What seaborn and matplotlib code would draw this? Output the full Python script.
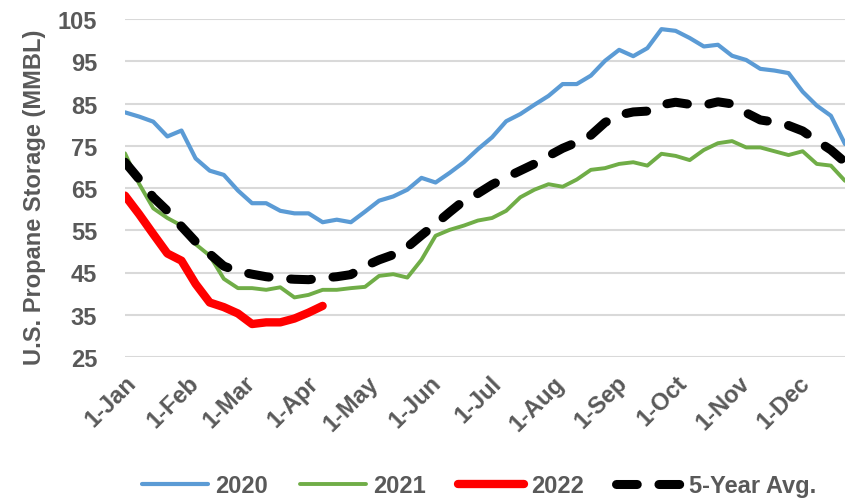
import numpy as np
import pandas as pd
import matplotlib
matplotlib.use("Agg")
import matplotlib.pyplot as plt
import seaborn as sns

# weekly points starting 1-Jan
weeks = pd.date_range("2021-01-01", periods=52, freq="7D")

storage_2020 = [82.9, 81.9, 80.7, 77.2, 78.6, 72.0, 69.1, 68.1, 64.4, 61.4,
                61.4, 59.6, 59.0, 59.0, 56.9, 57.5, 56.9, 59.4, 62.0, 63.0,
                64.6, 67.4, 66.3, 68.6, 71.1, 74.2, 77.0, 80.8, 82.5, 84.7,
                86.8, 89.6, 89.6, 91.6, 95.1, 97.7, 96.2, 98.1, 102.6, 102.2,
                100.5, 98.5, 98.9, 96.3, 95.3, 93.2, 92.8, 92.2, 87.8, 84.5,
                82.1, 75.4]
storage_2021 = [73.2, 66.0, 60.2, 57.9, 56.1, 51.7, 49.0, 43.5, 41.3, 41.3,
                40.9, 41.5, 39.1, 39.7, 40.9, 40.9, 41.3, 41.6, 44.2, 44.6,
                43.8, 48.0, 53.7, 55.1, 56.1, 57.3, 57.9, 59.6, 62.8, 64.6,
                65.9, 65.3, 67.0, 69.3, 69.7, 70.7, 71.1, 70.3, 73.1, 72.6,
                71.6, 74.0, 75.6, 76.1, 74.6, 74.6, 73.7, 72.8, 73.7, 70.7,
                70.3, 66.7]
storage_2022 = [63.2, 58.8, 54.1, 49.5, 47.8, 42.3, 37.9, 36.8, 35.3, 32.8,
                33.2, 33.2, 34.1, 35.5, 37.1]
storage_5yr = [71.1, 67.1, 62.8, 59.6, 55.9, 52.3, 49.4, 46.5, 45.3, 44.6,
               44.0, 43.6, 43.4, 43.3, 43.7, 44.0, 44.5, 46.5, 48.0, 49.2,
               51.0, 53.8, 56.5, 59.3, 62.0, 63.7, 65.8, 67.5, 69.1, 70.7,
               72.6, 74.4, 75.8, 77.5, 80.5, 82.3, 83.0, 83.2, 84.7, 85.3,
               84.8, 84.6, 85.4, 84.9, 82.8, 81.1, 80.6, 79.8, 78.5, 76.2,
               74.0, 71.1]

month_ticks = pd.date_range("2021-01-01", periods=12, freq="MS")
month_labels = ["1-Jan", "1-Feb", "1-Mar", "1-Apr", "1-May", "1-Jun",
                "1-Jul", "1-Aug", "1-Sep", "1-Oct", "1-Nov", "1-Dec"]
y_ticks = [25, 35, 45, 55, 65, 75, 85, 95, 105]

sns.set_theme(style="white")
plt.rcParams["font.family"] = ["Liberation Sans", "DejaVu Sans"]
grey = "#595959"
fs = 17

fig = plt.figure(figsize=(8.5, 5.02), dpi=100)
ax = fig.add_axes([125 / 850, 1 - 358 / 502, 720 / 850, 338 / 502])

sns.lineplot(x=weeks, y=storage_2020, ax=ax, color="#5B9BD5", lw=3.0, label="2020")
sns.lineplot(x=weeks, y=storage_2021, ax=ax, color="#70AD47", lw=2.8, label="2021")
sns.lineplot(x=weeks[:len(storage_2022)], y=storage_2022, ax=ax, color="#FF0000",
             lw=6.0, label="2022", solid_capstyle="round", solid_joinstyle="round")
sns.lineplot(x=weeks, y=storage_5yr, ax=ax, color="black", lw=6.5, label="5-Year Avg.")
avg_line = ax.lines[-1]
avg_line.set_dashes((2.3, 2.4))
avg_line.set_dash_capstyle("round")
avg_line.set_dash_joinstyle("round")

ax.set_xlim(weeks[0], weeks[-1])
ax.set_ylim(25, 105)
ax.set_yticks(y_ticks)
ax.set_yticklabels([str(v) for v in y_ticks], fontsize=fs, fontweight="bold", color=grey)
ax.set_xticks(month_ticks)
ax.set_xticklabels(month_labels, fontsize=fs, fontweight="bold", color=grey,
                   rotation=45, ha="right", rotation_mode="anchor")
ax.tick_params(axis="both", length=0)
ax.tick_params(axis="y", pad=20)
ax.tick_params(axis="x", pad=10)
ax.grid(axis="y", color="#D9D9D9", lw=1.5)
ax.set_axisbelow(True)
for s in ax.spines.values():
    s.set_visible(False)
ax.set_xlabel("")
ax.set_ylabel("")

fig.text(35 / 850, 1 - 197 / 502, "U.S. Propane Storage (MMBL)", rotation=90,
         ha="center", va="center", fontsize=fs, fontweight="bold", color=grey)

leg = ax.legend(loc="center", bbox_to_anchor=(0.564, 0.03), bbox_transform=fig.transFigure,
                ncol=4, frameon=False, handlelength=2.8, handletextpad=0.3,
                columnspacing=1.35, prop={"size": fs, "weight": "bold"})
for t in leg.get_texts():
    t.set_color(grey)

fig.savefig("out.png", dpi=100)
